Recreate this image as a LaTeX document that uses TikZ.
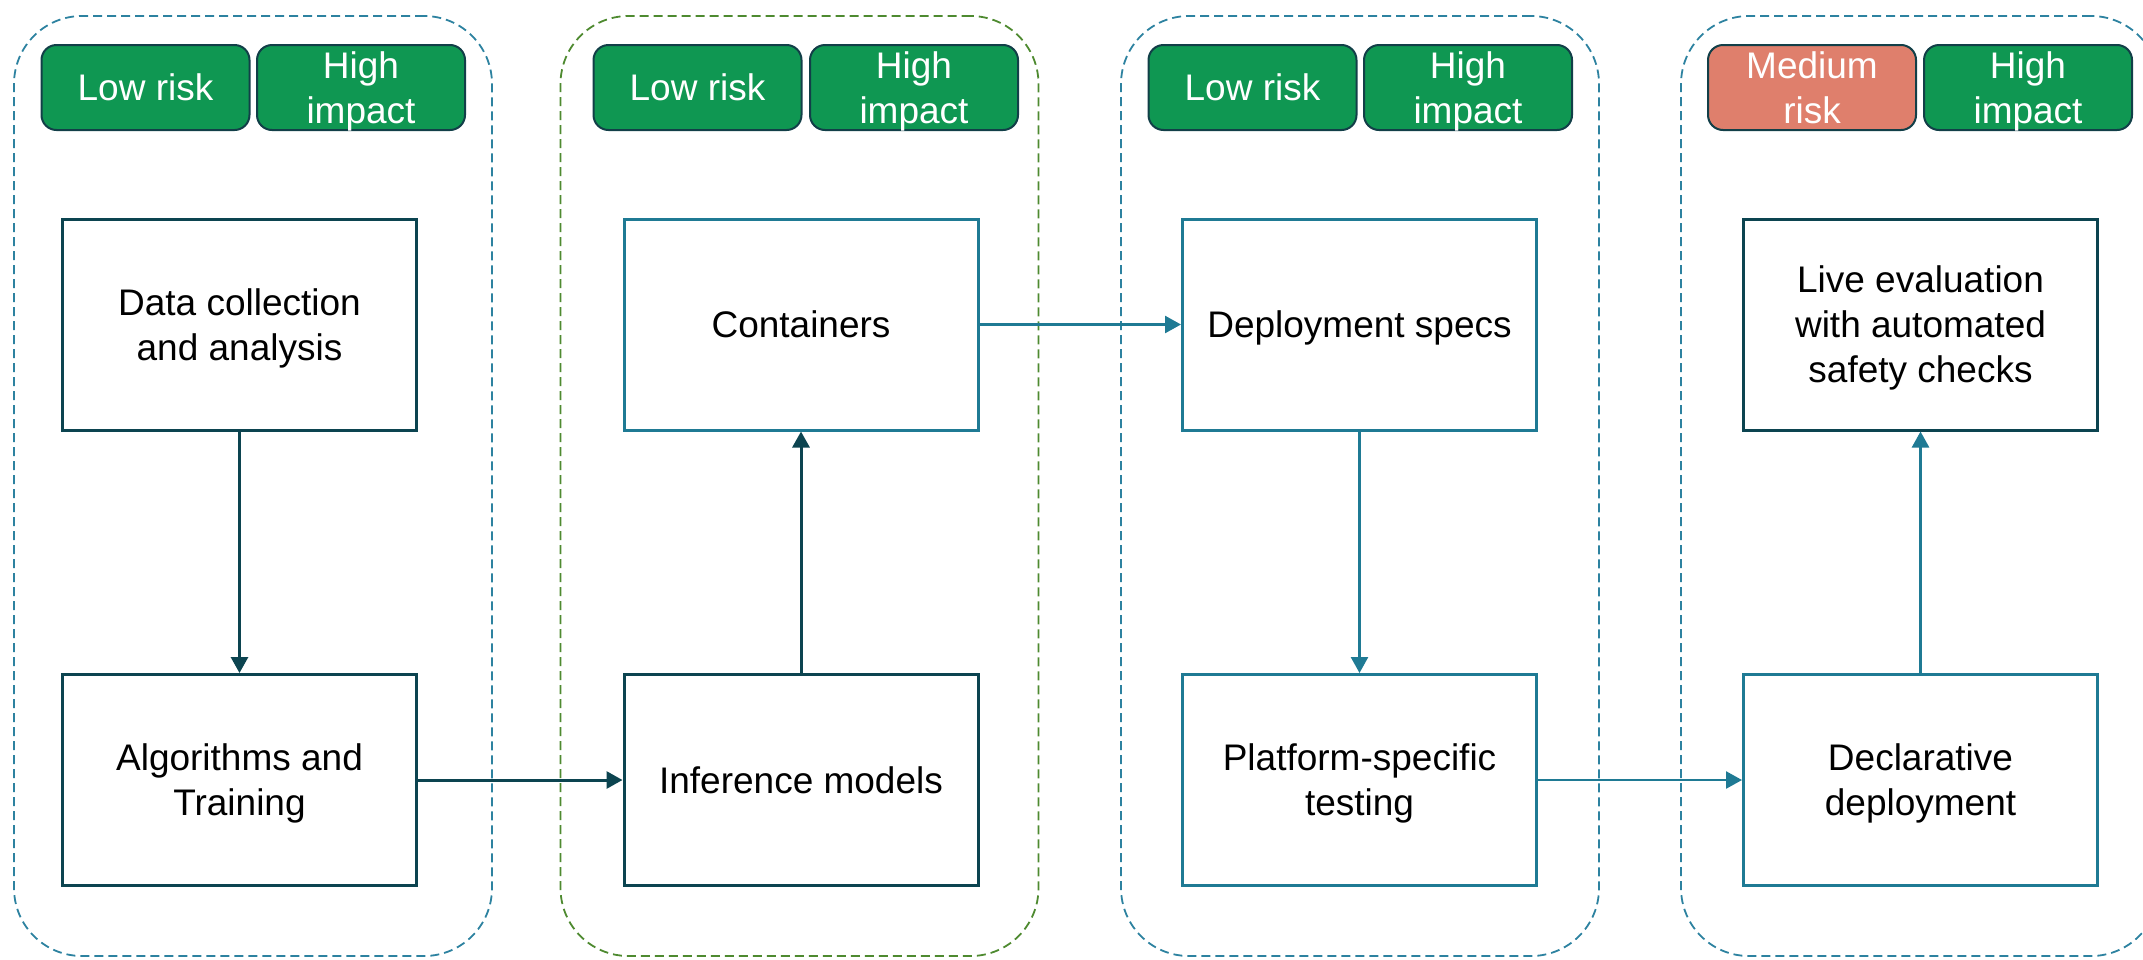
\documentclass[tikz,border=0pt]{standalone}
\usepackage{fontspec}
\setmainfont{Liberation Sans}
\usetikzlibrary{arrows.meta}

\definecolor{darkteal}{HTML}{0C4450}
\definecolor{lightteal}{HTML}{1F7A94}
\definecolor{grpblue}{HTML}{2D82A0}
\definecolor{grpgreen}{HTML}{4E8A30}
\definecolor{badgegreen}{HTML}{0F9752}
\definecolor{badgesalmon}{HTML}{DF7F6C}
\definecolor{badgeedge}{HTML}{123F48}

\tikzset{
  stage/.style={rectangle, line width=1.8pt, dash pattern=on 9pt off 5pt,
    rounded corners=68pt, minimum width=478pt, minimum height=940pt, inner sep=0pt},
  badge/.style={rectangle, draw=badgeedge, line width=2pt, rounded corners=15pt,
    minimum width=208pt, minimum height=85pt, inner sep=0pt, text=white,
    align=center, font=\fontsize{37}{45}\selectfont, text depth=0pt},
  okbadge/.style={badge, fill=badgegreen},
  medbadge/.style={badge, fill=badgesalmon},
  procbox/.style={rectangle, fill=white, line width=3pt, minimum width=354pt,
    minimum height=211pt, inner sep=0pt, align=center, text depth=0pt,
    font=\fontsize{37}{45}\selectfont},
  darkbox/.style={procbox, draw=darkteal},
  lightbox/.style={procbox, draw=lightteal},
  flow/.style={-{Triangle[length=16pt,width=17pt]}},
  darkflow/.style={flow, draw=darkteal, fill=darkteal, line width=3pt},
  lightflow/.style={flow, draw=lightteal, fill=lightteal, line width=2.6pt},
}

\begin{document}
\begin{tikzpicture}[x=1pt,y=-1pt]
\useasboundingbox (0,0) rectangle (2143,959);
\clip (0,0) rectangle (2143,959);

% stage frames
\node[stage, draw=grpblue]  (g1) at (253,486) {};
\node[stage, draw=grpgreen] (g2) at (799.5,486) {};
\node[stage, draw=grpblue]  (g3) at (1360,486) {};
\node[stage, draw=grpblue]  (g4) at (1920,486) {};

% risk / impact badges
\node[okbadge]  (r1) at (145.5,87.5) {Low risk};
\node[okbadge]  (i1) at (361,87.5)   {High\\impact};
\node[okbadge]  (r2) at (697.5,87.5) {Low risk};
\node[okbadge]  (i2) at (914,87.5)   {High\\impact};
\node[okbadge]  (r3) at (1252.5,87.5) {Low risk};
\node[okbadge]  (i3) at (1468,87.5)  {High\\impact};
\node[medbadge] (r4) at (1812,87.5)  {Medium\\risk};
\node[okbadge]  (i4) at (2028,87.5)  {High\\impact};

% process steps
\node[darkbox]  (data)  at (239.5,324.5)  {Data collection\\and analysis};
\node[darkbox]  (algo)  at (239.5,780)    {Algorithms and\\Training};
\node[lightbox] (cont)  at (801,324.5)    {Containers};
\node[darkbox]  (infer) at (801,780)      {Inference models};
\node[lightbox] (spec)  at (1359.5,324.5) {Deployment specs};
\node[lightbox] (plat)  at (1359.5,780)   {Platform-specific\\testing};
\node[darkbox]  (live)  at (1920.5,324.5) {Live evaluation\\with automated\\safety checks};
\node[lightbox] (decl)  at (1920.5,780)   {Declarative\\deployment};

% flow between steps
\draw[darkflow]  (data.south)  -- (algo.north);
\draw[darkflow]  (algo.east)   -- (infer.west);
\draw[darkflow]  (infer.north) -- (cont.south);
\draw[lightflow] (cont.east)   -- (spec.west);
\draw[lightflow] (spec.south)  -- (plat.north);
\draw[lightflow] (plat.east)   -- (decl.west);
\draw[lightflow] (decl.north)  -- (live.south);
\end{tikzpicture}
\end{document}
